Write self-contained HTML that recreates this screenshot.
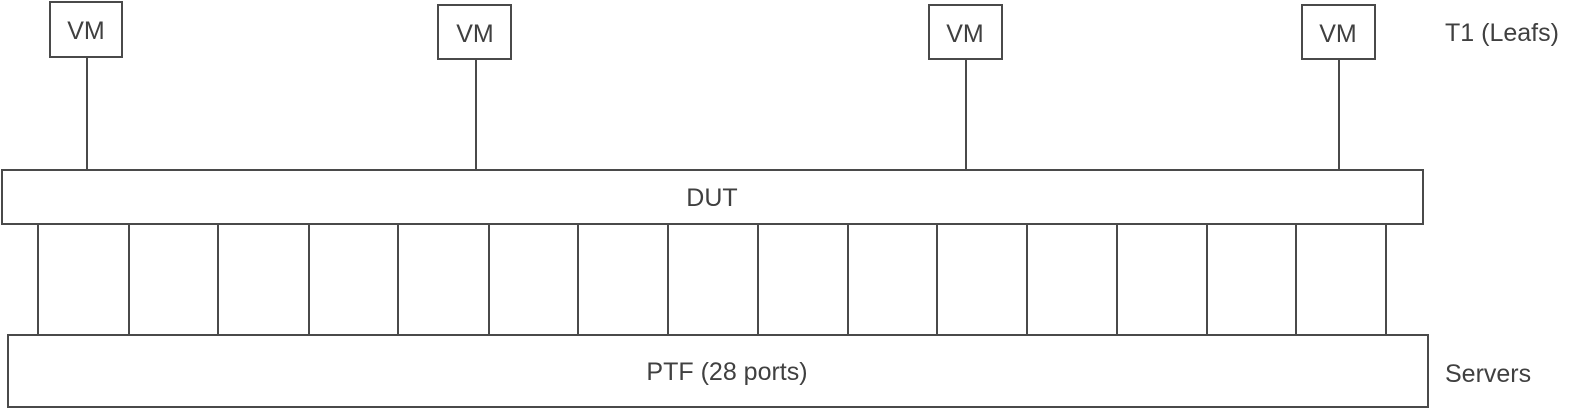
<!DOCTYPE html>
<html><head><style>
html,body{margin:0;padding:0;background:#fff;}
svg{display:block;}
text{font-family:"Liberation Sans",sans-serif;fill:#404040;font-size:25px;}
</style></head><body>
<svg width="1587" height="409" viewBox="0 0 1587 409" xmlns="http://www.w3.org/2000/svg">
<g stroke="#4a4a4a" stroke-width="2" fill="none">
<rect x="50" y="2" width="72" height="55"/>
<rect x="438" y="5" width="73" height="54"/>
<rect x="929" y="5" width="73" height="54"/>
<rect x="1302" y="5" width="73" height="54"/>
<line x1="87" y1="57" x2="87" y2="170"/>
<line x1="476" y1="59" x2="476" y2="170"/>
<line x1="966" y1="59" x2="966" y2="170"/>
<line x1="1339" y1="59" x2="1339" y2="170"/>
<rect x="2" y="170" width="1421" height="54"/>
<rect x="8" y="335" width="1420" height="72"/>
<line x1="38" y1="224" x2="38" y2="335"/>
<line x1="129" y1="224" x2="129" y2="335"/>
<line x1="218" y1="224" x2="218" y2="335"/>
<line x1="309" y1="224" x2="309" y2="335"/>
<line x1="398" y1="224" x2="398" y2="335"/>
<line x1="489" y1="224" x2="489" y2="335"/>
<line x1="578" y1="224" x2="578" y2="335"/>
<line x1="668" y1="224" x2="668" y2="335"/>
<line x1="758" y1="224" x2="758" y2="335"/>
<line x1="848" y1="224" x2="848" y2="335"/>
<line x1="937" y1="224" x2="937" y2="335"/>
<line x1="1027" y1="224" x2="1027" y2="335"/>
<line x1="1117" y1="224" x2="1117" y2="335"/>
<line x1="1207" y1="224" x2="1207" y2="335"/>
<line x1="1296" y1="224" x2="1296" y2="335"/>
<line x1="1386" y1="224" x2="1386" y2="335"/>
</g>
<g text-anchor="middle">
<text x="86" y="39">VM</text>
<text x="475" y="42">VM</text>
<text x="965" y="42">VM</text>
<text x="1338" y="42">VM</text>
<text x="712" y="206">DUT</text>
<text x="727" y="380">PTF (28 ports)</text>
</g>
<text x="1445" y="41">T1 (Leafs)</text>
<text x="1445" y="382">Servers</text>
</svg>
</body></html>
